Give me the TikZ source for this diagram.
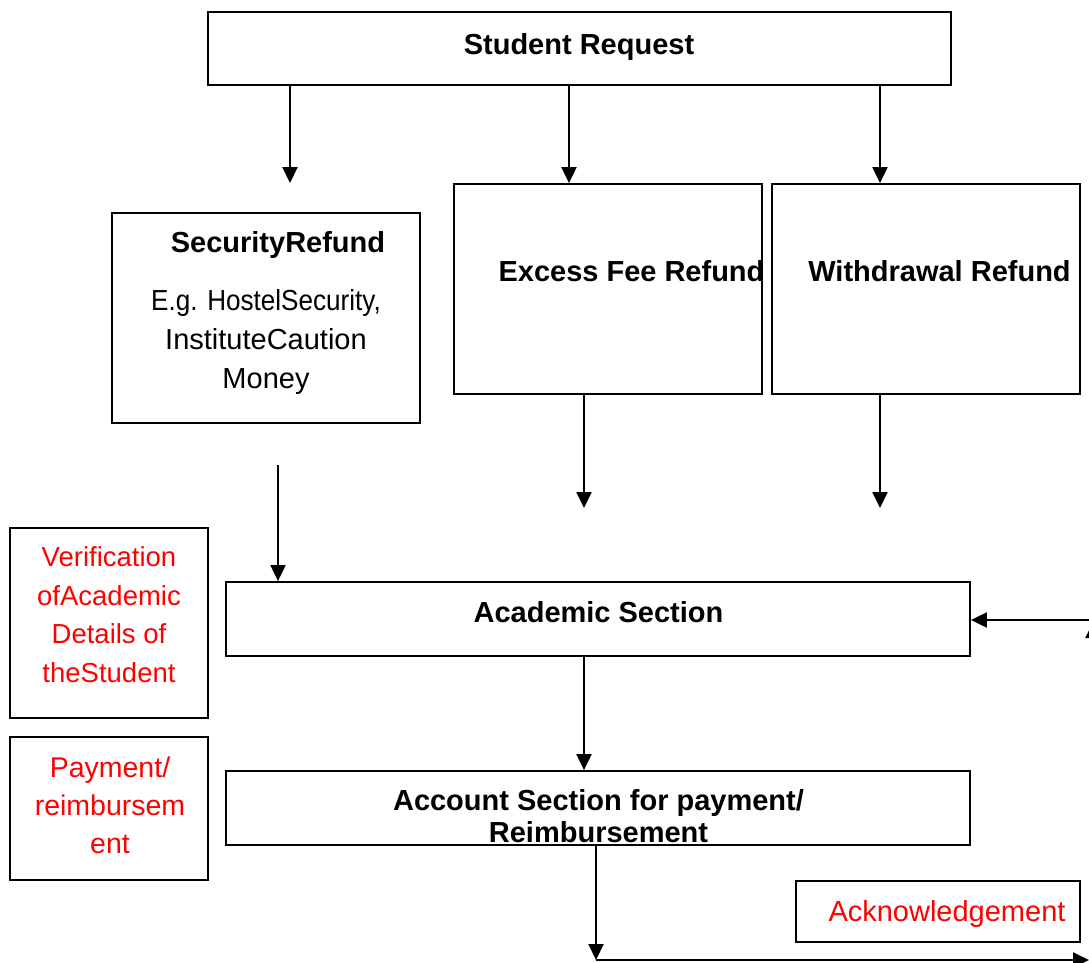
\documentclass[tikz,border=0pt]{standalone}
\usepackage{fontspec}
\setmainfont{Liberation Sans}
\usetikzlibrary{arrows.meta}
\definecolor{redtxt}{RGB}{255,0,0}
\begin{document}
\begin{tikzpicture}[x=1pt,y=-1pt,
  box/.style={draw,line width=1.8pt,inner sep=0pt,anchor=center},
  bt/.style={inner sep=0pt,anchor=base,font=\fontsize{29}{39}\selectfont\bfseries},
  rt/.style={inner sep=0pt,anchor=base,align=center,font=\fontsize{29}{39}\selectfont},
  redt/.style={inner sep=0pt,anchor=base,align=center,text=redtxt,font=\fontsize{27.5}{38.5}\selectfont},
  arr/.style={line width=2pt,-{Triangle[length=16pt,width=15pt]}},
  ln/.style={line width=2pt}]
\useasboundingbox (0,0) rectangle (1089,962);
\clip (0,0) rectangle (1089,962);
% boxes
\node[box,minimum width=743pt,minimum height=73pt] (req) at (579.5,48.5) {};
\node[box,minimum width=308pt,minimum height=210pt] (sec) at (266,318) {};
\node[box,minimum width=308pt,minimum height=210pt] (exc) at (608,289) {};
\node[box,minimum width=308pt,minimum height=210pt] (wd) at (926,289) {};
\node[box,minimum width=198pt,minimum height=190pt] (ver) at (109,623) {};
\node[box,minimum width=198pt,minimum height=143pt] (pay) at (109,808.5) {};
\node[box,minimum width=744pt,minimum height=74pt] (acad) at (598,619) {};
\node[box,minimum width=744pt,minimum height=74pt] (acc) at (598,808) {};
\node[box,minimum width=284pt,minimum height=61pt] (ack) at (938,911.5) {};
% texts (multi-line nodes: base = baseline of last line)
\node[bt] (reqt) at (579,54) {Student Request};
\node[bt] (sect) at (278,252) {SecurityRefund};
\node[rt] (secb) at (266,388) {\scalebox{0.9}[1]{E.g. HostelSecurity,}\\InstituteCaution\\Money};
\node[bt] (exct) at (631.5,281) {Excess Fee Refund};
\node[bt] (wdt) at (939.5,281) {Withdrawal Refund};
\node[redt] (vert) at (109,682) {Verification\\ofAcademic\\Details of\\theStudent};
\node[redt,font=\fontsize{28.5}{38}\selectfont] (payt) at (110,853) {Payment/\\reimbursem\\ent};
\node[bt] (acadt) at (598.5,622) {Academic Section};
\node[bt,align=center,font=\fontsize{29}{32}\selectfont\bfseries] (acct) at (598.5,842) {Account Section for payment/\\Reimbursement};
\node[inner sep=0pt,anchor=base,text=redtxt,font=\fontsize{29}{39}\selectfont] (ackt) at (947,921) {Acknowledgement};
% free-end coordinates
\coordinate (t1) at (290,183);
\coordinate (x2) at (569,0);
\coordinate (x3) at (880,0);
\coordinate (s4) at (278,465);
\coordinate (t5) at (584,508);
\coordinate (t6) at (880,508);
\coordinate (x7) at (584,0);
\coordinate (corner) at (596,960);
\coordinate (rend) at (1089,960);
\coordinate (rb) at (1093,960);
\coordinate (rt2) at (1093,622);
\coordinate (rh) at (1093,620);
% connectors
\draw[arr] (t1 |- req.south) -- (t1);
\draw[arr] (req.south -| x2) -- (exc.north -| x2);
\draw[arr] (req.south -| x3) -- (wd.north -| x3);
\draw[arr] (s4) -- (s4 |- acad.north);
\draw[arr] (t5 |- exc.south) -- (t5);
\draw[arr] (t6 |- wd.south) -- (t6);
\draw[arr] (acad.south -| x7) -- (acc.north -| x7);
\draw[arr] (corner |- acc.south) -- (corner);
\draw[arr] (corner) -- (rend);
\draw[arr] (rb) -- (rt2);
\draw[arr] (rh) -- (rh -| acad.east);
\end{tikzpicture}
\end{document}
